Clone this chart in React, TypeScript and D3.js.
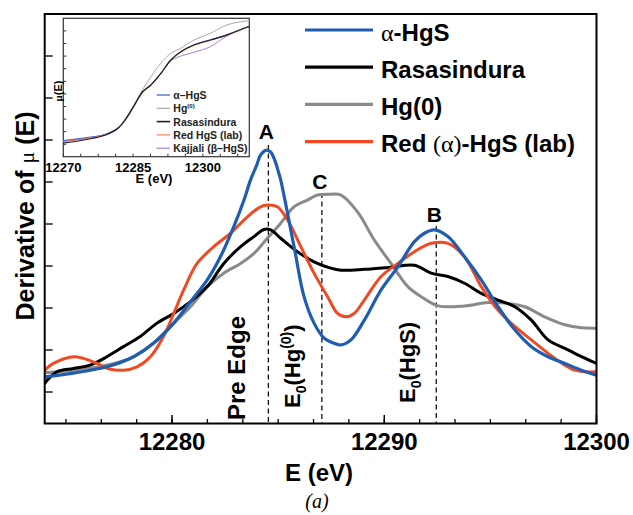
import React from "react";
import * as d3 from "d3";

// ---------- main chart data (E in eV, derivative in arbitrary tick units) ----------
const alphaE = [12274.0, 12275.35, 12276.93, 12278.19, 12279.13, 12280.08, 12280.87, 12281.66, 12282.28, 12282.91, 12283.39, 12283.7, 12283.99, 12284.17, 12284.46, 12284.65, 12284.84, 12285.03, 12285.12, 12285.75, 12286.22, 12286.69, 12287.17, 12287.64, 12287.96, 12288.43, 12289.06, 12289.85, 12290.64, 12291.42, 12291.89, 12292.36, 12293.0, 12293.78, 12294.57, 12295.36, 12296.15, 12296.93, 12297.72, 12298.51, 12299.29, 12300.0];
const alphaV = [0.36, 0.45, 0.6, 0.84, 1.16, 1.64, 2.15, 2.67, 3.22, 3.94, 4.57, 5.05, 5.4, 5.64, 5.76, 5.71, 5.52, 5.21, 5.05, 3.46, 2.27, 1.64, 1.28, 1.16, 1.12, 1.24, 1.71, 2.43, 2.98, 3.58, 3.78, 3.86, 3.7, 3.22, 2.67, 2.03, 1.48, 1.08, 0.84, 0.68, 0.52, 0.4];

const rasaE = [12274.0, 12274.57, 12275.35, 12276.14, 12276.93, 12277.71, 12278.5, 12279.29, 12280.08, 12280.87, 12281.66, 12282.44, 12283.23, 12283.86, 12284.33, 12284.65, 12285.12, 12285.91, 12286.69, 12287.48, 12287.96, 12289.06, 12290.32, 12291.42, 12292.21, 12293.0, 12293.78, 12294.57, 12295.36, 12296.15, 12296.93, 12297.72, 12298.51, 12299.29, 12300.0];
const rasaV = [0.21, 0.48, 0.56, 0.64, 0.84, 1.08, 1.32, 1.64, 1.87, 2.15, 2.51, 3.06, 3.46, 3.7, 3.87, 3.86, 3.66, 3.34, 3.1, 2.95, 2.9, 2.92, 2.97, 3.02, 2.83, 2.75, 2.59, 2.35, 2.19, 2.03, 1.71, 1.24, 1.04, 0.84, 0.68];

const hgE = [12274.0, 12275.35, 12276.93, 12278.19, 12279.29, 12280.08, 12280.87, 12281.66, 12282.44, 12283.23, 12283.86, 12284.49, 12285.12, 12285.75, 12286.38, 12286.85, 12287.48, 12287.96, 12288.74, 12289.53, 12290.32, 12291.11, 12291.74, 12292.53, 12293.78, 12294.89, 12295.83, 12296.62, 12297.56, 12298.51, 12299.29, 12300.0];
const hgV = [0.46, 0.52, 0.64, 0.84, 1.24, 1.64, 2.03, 2.51, 2.83, 3.06, 3.3, 3.66, 4.02, 4.41, 4.57, 4.69, 4.71, 4.69, 4.29, 3.62, 3.06, 2.51, 2.27, 2.05, 2.05, 2.13, 2.11, 2.03, 1.79, 1.6, 1.53, 1.52];

const redE = [12274.0, 12274.41, 12275.35, 12275.82, 12276.46, 12277.09, 12277.71, 12278.35, 12278.98, 12279.6, 12280.08, 12280.55, 12281.18, 12281.97, 12282.76, 12283.55, 12284.17, 12284.49, 12284.96, 12285.44, 12286.07, 12286.69, 12287.33, 12287.8, 12288.19, 12288.58, 12289.06, 12289.85, 12290.64, 12291.42, 12292.21, 12293.0, 12293.78, 12294.57, 12295.36, 12296.15, 12296.93, 12297.72, 12298.51, 12298.98, 12299.45, 12300.0];
const redV = [0.52, 0.68, 0.84, 0.8, 0.68, 0.54, 0.52, 0.6, 0.84, 1.32, 1.87, 2.43, 3.06, 3.46, 3.78, 4.17, 4.41, 4.45, 4.41, 4.1, 3.46, 2.83, 2.27, 1.87, 1.79, 1.87, 2.19, 2.75, 3.06, 3.34, 3.54, 3.54, 3.22, 2.51, 1.95, 1.56, 1.24, 0.92, 0.64, 0.52, 0.48, 0.48];

const legendNames = ["α-HgS", "Rasasindura", "Hg(0)", "Red (α)-HgS (lab)"];
const mainColors = ["#1f5db0", "#000000", "#8a8a8a", "#ef4a23"];

const xMajorTicks = [12280, 12290, 12300];
const xMinorSteps = [-3, -2, -1, 0, 1, 2, 3, 4, 5, 6, 7, 8, 9, 10, 11, 12];
const yTicks = [0, 1, 2, 3, 4, 5, 6, 7, 8, 9];

// annotation markers
const markerLabels = ["A", "C", "B"];
const markerE = [12284.54, 12287.06, 12292.45];

// ---------- inset data (E in eV, mu in tick units) ----------
const insetE = [12270, 12275.33, 12278.89, 12281.73, 12283.52, 12285.29, 12287.06, 12288.85, 12290.98, 12293.11, 12295.25, 12298.08, 12301.64, 12305.18, 12309.45, 12310];
const insetAlpha = [0.3, 0.55, 0.78, 1.3, 2.02, 3.1, 4.2, 4.72, 5.6, 6.66, 7.34, 7.9, 8.3, 8.7, 9.28, 9.33];
const insetHg = [0.22, 0.5, 0.75, 1.25, 2.1, 3.2, 4.35, 5.37, 6.43, 7.22, 7.62, 8.28, 8.81, 9.47, 9.79, 9.79];
const insetRasa = [0.1, 0.4, 0.72, 1.28, 2.06, 3.12, 4.17, 4.71, 5.63, 6.69, 7.35, 7.88, 8.28, 8.67, 9.29, 9.34];
const insetRed = [0.2, 0.47, 0.74, 1.27, 2.04, 3.14, 4.15, 4.73, 5.65, 6.7, 7.3, 7.85, 8.25, 8.66, 9.26, 9.32];
const insetKaj = [0.25, 0.5, 0.7, 1.22, 2.0, 3.05, 4.1, 4.68, 5.6, 6.62, 7.0, 7.3, 7.75, 8.6, 9.28, 9.34];
const insetNames = ["α–HgS", "Hg", "Rasasindura", "Red HgS (lab)", "Kajjali (β–HgS)"];
const insetColors = ["#3a55c8", "#a8a8a8", "#222222", "#f0805a", "#a77fd6"];
const insetXTickLabels = [12270, 12285, 12300];
const insetXTickSteps = [0, 1, 2, 3, 4, 5, 6, 7, 8, 9, 10];
const insetYTicks = [0, 1, 2, 3, 4, 5, 6, 7, 8, 9];

export default function App() {
  const FONT = "'Liberation Sans', Arial, Helvetica, sans-serif";
  const SERIF = "'Liberation Serif', 'Times New Roman', serif";
  const L = 44.7, R = 596.5, T = 14, B = 423.5;
  const x = d3.scaleLinear().domain([12274, 12300]).range([L, R]);
  const y = d3.scaleLinear().domain([-0.75, 9]).range([B, T]);
  const xMinorTicks = xMinorSteps.map((k) => 12280 + (10 / 6) * k);

  const mainSeries = [
    { e: alphaE, v: alphaV, c: mainColors[0], w: 3.2 },
    { e: rasaE, v: rasaV, c: mainColors[1], w: 3 },
    { e: hgE, v: hgV, c: mainColors[2], w: 3 },
    { e: redE, v: redV, c: mainColors[3], w: 3 },
  ];
  const drawOrder = [2, 1, 3, 0];

  const line = d3
    .line()
    .x((d: any) => x(d[0]))
    .y((d: any) => y(d[1]))
    .curve(d3.curveCatmullRom.alpha(0.5));

  // inset scales
  const iL = 63.3, iR = 249.3, iT = 18.3, iB = 156.7;
  const ix = d3.scaleLinear().domain([12270, 12310]).range([iL, iR]);
  const iy = d3.scaleLinear().domain([-0.984, 10]).range([iB, iT]);
  const iline = d3
    .line()
    .x((d: any) => ix(d[0]))
    .y((d: any) => iy(d[1]))
    .curve(d3.curveCatmullRom.alpha(0.5));
  const insetSeries = [insetAlpha, insetHg, insetRasa, insetRed, insetKaj];
  const insetOrder = [1, 4, 0, 3, 2];
  const insetXTicks = insetXTickSteps.map((k) => 12270 + 3.75 * k);

  const markerTop = [145, 193, 226];
  const markerLabelY = [139, 189, 222];

  return (
    <svg
      width={633}
      height={515}
      style={{ position: "absolute", left: 0, top: 0, background: "#fff" }}
      fontFamily={FONT}
    >
      <rect x={0} y={0} width={633} height={515} fill="#fff" />
      <defs>
        <clipPath id="plotclip">
          <rect x={L} y={T} width={R - L} height={B - T} />
        </clipPath>
      </defs>

      {markerE.map((e, i) => (
        <line
          key={"m" + i}
          x1={x(e)}
          x2={x(e)}
          y1={markerTop[i]}
          y2={B}
          stroke="#111"
          strokeWidth={1.3}
          strokeDasharray="5,3.5"
        />
      ))}

      <g clipPath="url(#plotclip)">
        {drawOrder.map((i) => {
          const s = mainSeries[i];
          const pts = s.e.map((e, k) => [e, s.v[k]]);
          return (
            <path
              key={"s" + i}
              d={(line as any)(pts) || ""}
              fill="none"
              stroke={s.c}
              strokeWidth={s.w}
              strokeLinejoin="round"
              strokeLinecap="round"
            />
          );
        })}
      </g>

      <rect x={L} y={T} width={R - L} height={B - T} fill="none" stroke="#000" strokeWidth={2} />

      {xMinorTicks.map((t, i) => (
        <line key={"xm" + i} x1={x(t)} x2={x(t)} y1={B} y2={B - 4.5} stroke="#000" strokeWidth={1.3} />
      ))}
      {xMajorTicks.map((t, i) => (
        <g key={"xM" + i}>
          <line x1={x(t)} x2={x(t)} y1={B} y2={B - 8.5} stroke="#000" strokeWidth={1.5} />
          <text x={x(t)} y={450} textAnchor="middle" fontSize={24} fontWeight="bold">
            {t}
          </text>
        </g>
      ))}
      {yTicks.map((t, i) => (
        <line key={"yt" + i} x1={L} x2={L + 8} y1={y(t)} y2={y(t)} stroke="#000" strokeWidth={1.3} />
      ))}

      <text x={319} y={481} textAnchor="middle" fontSize={24} fontWeight="bold">
        E (eV)
      </text>
      <text x={317} y={508} textAnchor="middle" fontSize={20} fontStyle="italic" fontFamily={SERIF}>
        (a)
      </text>
      <text transform="translate(34,216) rotate(-90)" textAnchor="middle" fontSize={25} fontWeight="bold">
        Derivative of{" "}
        <tspan fontFamily={SERIF} fontWeight="normal" fontSize={22}>
          μ
        </tspan>{" "}
        (E)
      </text>

      {markerLabels.map((lab, i) => (
        <text
          key={"ml" + i}
          x={x(markerE[i]) - 2}
          y={markerLabelY[i]}
          textAnchor="middle"
          fontSize={21}
          fontWeight="bold"
        >
          {lab}
        </text>
      ))}

      <text transform="translate(245,420) rotate(-90)" fontSize={24} fontWeight="bold">
        Pre Edge
      </text>
      <text transform="translate(300,408) rotate(-90)" fontSize={22} fontWeight="bold">
        E
        <tspan fontSize={14} dy={6}>0</tspan>
        <tspan dy={-6}>(Hg</tspan>
        <tspan fontSize={14} dy={-9}>(0)</tspan>
        <tspan dy={9}>)</tspan>
      </text>
      <text transform="translate(415,403) rotate(-90)" fontSize={22} fontWeight="bold">
        E
        <tspan fontSize={14} dy={6}>0</tspan>
        <tspan dy={-6}>(HgS)</tspan>
      </text>

      {legendNames.map((n, i) => {
        const ly = 30 + 37.2 * i;
        return (
          <g key={"lg" + i}>
            <line x1={305} x2={373} y1={ly} y2={ly} stroke={mainColors[i]} strokeWidth={3.2} />
            <text x={381} y={ly + 10.5} fontSize={24} fontWeight="bold">
              {i === 0 ? (
                <>
                  <tspan fontFamily={SERIF} fontWeight="normal">α</tspan>-HgS
                </>
              ) : i === 3 ? (
                <>
                  Red <tspan fontFamily={SERIF} fontWeight="normal">(α)</tspan>-HgS (lab)
                </>
              ) : (
                n
              )}
            </text>
          </g>
        );
      })}

      <rect x={iL} y={iT} width={iR - iL} height={iB - iT} fill="#fff" stroke="#333" strokeWidth={1.2} />
      {insetOrder.map((i) => {
        const pts = insetE.map((e, k) => [e, insetSeries[i][k]]);
        return (
          <path
            key={"is" + i}
            d={(iline as any)(pts) || ""}
            fill="none"
            stroke={insetColors[i]}
            strokeWidth={i === 2 ? 1.2 : 1}
          />
        );
      })}
      {insetXTicks.map((t, i) => (
        <line key={"ixt" + i} x1={ix(t)} x2={ix(t)} y1={iB} y2={iB - 3} stroke="#333" strokeWidth={1} />
      ))}
      {insetYTicks.map((t, i) => (
        <line key={"iyt" + i} x1={iL} x2={iL + 3} y1={iy(t)} y2={iy(t)} stroke="#333" strokeWidth={1} />
      ))}
      {insetXTickLabels.map((t, i) => (
        <text key={"ixl" + i} x={ix(t)} y={172} textAnchor="middle" fontSize={13} fontWeight="bold">
          {t}
        </text>
      ))}
      <text x={154} y={183} textAnchor="middle" fontSize={13} fontWeight="bold">
        E (eV)
      </text>
      <text transform="translate(62,91) rotate(-90)" textAnchor="middle" fontSize={11} fontWeight="bold">
        <tspan fontFamily={SERIF}>μ</tspan>(E)
      </text>
      {insetNames.map((n, i) => {
        const ly = 95 + 13.3 * i;
        return (
          <g key={"ilg" + i}>
            <line x1={156.7} x2={170} y1={ly} y2={ly} stroke={insetColors[i]} strokeWidth={i === 2 ? 1.6 : 1.2} />
            <text x={173.3} y={ly + 4} fontSize={10.5} fontWeight="bold" fill="#222">
              {i === 1 ? (
                <>
                  Hg<tspan fontSize={6} dy={-4}>(0)</tspan>
                </>
              ) : (
                n
              )}
            </text>
          </g>
        );
      })}
    </svg>
  );
}
